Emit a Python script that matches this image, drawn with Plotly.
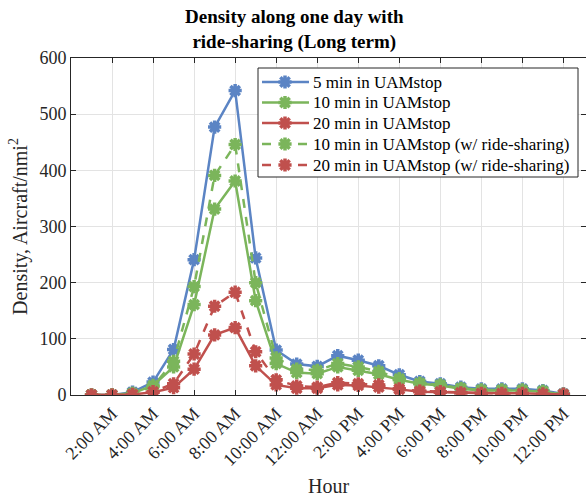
import plotly.graph_objects as go

# Hour of the day (1..24) and density values in aircraft per square nautical mile
hours = list(range(1, 25))

dens_5min = [0, 0, 5, 23, 81, 241, 477, 542, 244, 80, 55, 51,
             70, 62, 52, 36, 24, 20, 14, 11, 11, 11, 8, 2]
dens_10min = [0, 0, 3, 17, 50, 161, 331, 381, 168, 56, 40, 38,
              50, 44, 37, 27, 20, 17, 11, 8, 8, 8, 6, 1]
dens_20min = [0, 0, 1, 5, 13, 46, 107, 120, 52, 18, 12, 12,
              18, 17, 14, 10, 6, 5, 4, 3, 3, 3, 2, 1]
dens_10min_rs = [0, 0, 3, 15, 60, 193, 391, 446, 200, 66, 46, 44,
                 56, 50, 42, 29, 21, 18, 12, 9, 9, 9, 7, 1]
dens_20min_rs = [0, 0, 1, 6, 20, 73, 158, 183, 77, 27, 16, 14,
                 22, 20, 18, 11, 7, 6, 4, 3, 3, 3, 2, 1]

tick_vals = [2, 4, 6, 8, 10, 12, 14, 16, 18, 20, 22, 24]
tick_text = ["2:00 AM", "4:00 AM", "6:00 AM", "8:00 AM", "10:00 AM", "12:00 AM",
             "2:00 PM", "4:00 PM", "6:00 PM", "8:00 PM", "10:00 PM", "12:00 PM"]

BLUE = "#5b84c4"
GREEN = "#7bb55b"
RED = "#c0504d"
SERIF = "Liberation Serif, Times New Roman, serif"
INK = "#262626"

series = [
    ("5 min in UAMstop", dens_5min, BLUE, "solid"),
    ("10 min in UAMstop", dens_10min, GREEN, "solid"),
    ("20 min in UAMstop", dens_20min, RED, "solid"),
    ("10 min in UAMstop (w/ ride-sharing)", dens_10min_rs, GREEN, "dash"),
    ("20 min in UAMstop (w/ ride-sharing)", dens_20min_rs, RED, "dash"),
]


def marker_style(color):
    return dict(symbol="asterisk-open", size=11, color=color,
                line=dict(color=color, width=3.5))


fig = go.Figure()
for name, vals, color, dash in series:
    fig.add_trace(go.Scatter(
        x=hours, y=vals, name=name, mode="lines+markers", showlegend=False,
        line=dict(color=color, width=2.5, dash=dash),
        marker=marker_style(color),
    ))

# Compact legend drawn on an overlay axis measured in plot-area pixels
PLOT_W, PLOT_H = 515, 337
box_x0, box_x1, box_top, box_bot = 187, 507, 327, 218
row_y = [313, 292.5, 272, 251, 230]
fig.add_trace(go.Scatter(
    x=[box_x0, box_x1, box_x1, box_x0, box_x0],
    y=[box_bot, box_bot, box_top, box_top, box_bot],
    xaxis="x2", yaxis="y2", mode="lines", fill="toself",
    fillcolor="white", line=dict(color=INK, width=1),
    showlegend=False, hoverinfo="skip",
))
annotations = []
for (name, _, color, dash), ry in zip(series, row_y):
    fig.add_trace(go.Scatter(
        x=[191, 214, 238], y=[ry, ry, ry], xaxis="x2", yaxis="y2",
        mode="lines", line=dict(color=color, width=2.5, dash=dash),
        showlegend=False, hoverinfo="skip",
    ))
    fig.add_trace(go.Scatter(
        x=[214], y=[ry], xaxis="x2", yaxis="y2", mode="markers",
        marker=marker_style(color), showlegend=False, hoverinfo="skip",
    ))
    annotations.append(dict(
        text=name, xref="x2", yref="y2", x=240, y=ry,
        xanchor="left", yanchor="middle", showarrow=False,
        font=dict(family=SERIF, size=17, color="black"),
    ))

annotations.append(dict(
    text="<b>Density along one day with<br>ride-sharing (Long term)</b>",
    xref="paper", yref="paper", x=(294 - 71) / PLOT_W, y=(PLOT_H + 58 - 4) / PLOT_H,
    xanchor="center", yanchor="top", showarrow=False,
    font=dict(family=SERIF, size=19, color="black"),
))

axis_common = dict(
    showline=True, linecolor=INK, linewidth=1, mirror="ticks",
    ticks="inside", ticklen=5, tickcolor=INK,
    showgrid=True, gridcolor="#e3e3e3", gridwidth=1,
    zeroline=False,
    tickfont=dict(family=SERIF, size=18, color=INK),
)

fig.update_layout(
    width=586, height=500,
    margin=dict(l=71, r=0, t=58, b=105),
    paper_bgcolor="white", plot_bgcolor="white",
    showlegend=False,
    xaxis=dict(
        range=[0, 25.1], tickvals=tick_vals, ticktext=tick_text, tickangle=-45,
        title=dict(text="Hour", font=dict(family=SERIF, size=20, color=INK),
                   standoff=10),
        **axis_common,
    ),
    yaxis=dict(
        range=[0, 600], dtick=100,
        title=dict(text="Density, Aircraft/nmi<sup>2</sup>",
                   font=dict(family=SERIF, size=20, color=INK), standoff=6),
        **axis_common,
    ),
    xaxis2=dict(overlaying="x", range=[0, PLOT_W], visible=False, fixedrange=True),
    yaxis2=dict(overlaying="y", range=[0, PLOT_H], visible=False, fixedrange=True),
    annotations=annotations,
)

fig.write_html("out.html")
